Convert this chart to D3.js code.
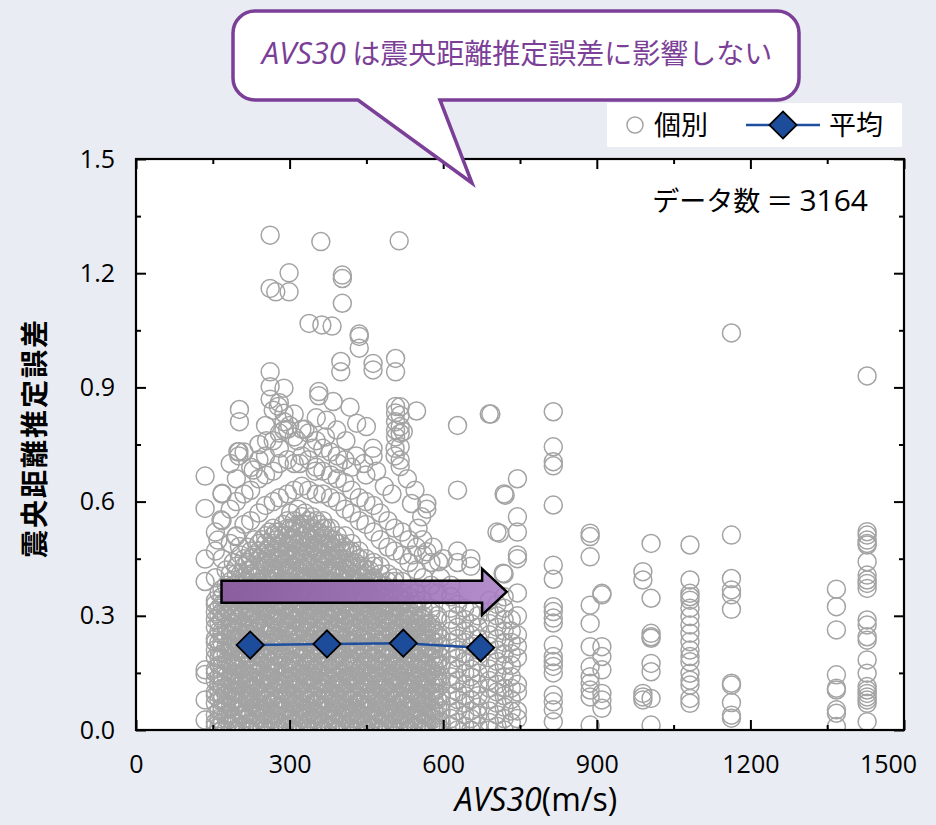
<!DOCTYPE html>
<html>
<head>
<meta charset="utf-8">
<script src="https://cdn.jsdelivr.net/npm/d3@7"></script>
<style>
  body { margin: 0; background: #e9ecf2; }
  svg { display: block; font-family: "Open Sans", "Noto Sans CJK JP", sans-serif; }
</style>
</head>
<body>
<div id="chart"></div>
<script>
// main cloud of points, grouped by AVS30 (m/s); errors in 1/100
const massCols = [
  [155, [1,2,4,7,9,10,13,15,16,19,21,23,24,27,29,31,33,34,40,47,52]],
  [168, [0,2,5,6,8,11,12,14,17,19,20,23,25,26,29,31,33,35,37,45,55,62]],
  [184, [1,3,4,6,9,11,13,14,17,18,21,22,25,27,28,31,33,35,36,39,41,49,58,70]],
  [196, [0,2,5,7,8,10,12,15,16,18,21,23,24,26,29,30,33,35,37,38,41,43,51,60,66]],
  [211, [1,3,4,6,9,10,13,15,17,18,20,23,24,27,28,31,33,34,37,39,40,43,45,54,62,73]],
  [224, [0,2,4,7,8,11,12,14,16,19,21,22,25,26,29,31,32,35,37,38,41,42,45,47,55,63,69]],
  [240, [1,3,5,6,9,10,12,15,17,18,20,23,24,27,29,30,33,34,36,39,41,42,45,47,49,57,66,75]],
  [253, [0,2,4,6,8,11,13,14,16,19,20,22,25,27,28,31,32,35,37,38,40,43,44,47,49,51,59,67,72,80]],
  [268, [1,3,4,7,9,10,12,15,16,18,21,23,24,26,29,30,33,35,36,39,41,42,45,46,49,51,53,60,68,76,84]],
  [280, [0,2,5,6,8,11,12,14,17,19,20,23,24,27,28,31,33,34,36,39,40,43,45,46,48,51,52,61,70,78,86]],
  [296, [1,3,4,6,9,10,13,15,16,18,21,22,25,27,28,30,33,35,36,38,41,42,45,47,48,51,53,55,62,71,79]],
  [309, [0,2,4,7,8,11,12,14,17,18,20,23,25,26,29,31,32,35,37,38,40,43,45,46,49,50,53,55,63,70,77,83]],
  [324, [1,3,5,6,9,10,12,15,16,19,21,22,24,27,28,31,33,34,36,39,41,42,45,47,48,51,53,54,56,64,72,79]],
  [337, [0,2,4,6,8,11,13,14,17,18,20,23,24,27,29,30,33,35,36,39,40,43,44,47,49,50,53,55,63,71,78]],
  [352, [1,3,4,7,9,10,12,15,16,19,21,22,25,26,28,31,32,35,37,38,41,42,45,47,48,51,52,55,62,69,76,82]],
  [365, [0,2,5,6,8,11,12,14,17,18,20,23,24,27,29,30,33,34,37,39,40,43,45,46,49,51,53,55,62,68,74]],
  [380, [1,3,4,6,9,10,13,15,16,18,21,23,24,26,29,31,32,35,36,38,41,42,45,47,48,50,53,61,67,73]],
  [393, [0,2,4,7,8,11,12,14,17,19,20,22,25,27,28,31,33,34,37,38,40,43,45,46,49,51,60,66,72]],
  [408, [1,3,5,6,9,10,12,15,16,18,21,22,24,27,29,30,33,35,36,39,41,42,44,47,48,51,58,65,71]],
  [421, [0,2,4,6,8,11,13,14,17,18,20,23,25,26,28,31,32,35,37,38,41,43,44,47,49,57,63,69]],
  [436, [1,3,4,7,9,10,12,15,16,19,21,22,24,27,28,31,33,34,36,39,40,43,45,47,55,61]],
  [449, [0,2,5,6,8,11,12,14,17,18,20,23,25,26,29,30,32,35,37,38,41,42,45,54,60,67]],
  [464, [1,3,4,6,9,10,13,15,16,19,21,22,24,27,29,30,33,34,37,39,40,43,44,52,59]],
  [477, [0,2,4,7,8,11,12,14,17,18,20,23,25,26,28,31,32,35,37,38,41,43,50,57]],
  [492, [1,3,5,6,9,10,12,15,16,19,21,22,24,27,29,30,33,35,36,39,41,48,55]],
  [505, [0,2,4,6,8,11,13,14,17,18,20,23,25,26,29,31,32,34,37,39,40,47,53]],
  [520, [1,3,4,7,9,10,12,15,16,19,21,22,24,27,28,31,33,34,36,39,46,52]],
  [533, [0,2,5,6,8,11,12,14,17,18,20,23,25,26,29,30,32,35,37,44,50]],
  [548, [1,3,4,6,9,10,13,15,16,19,21,22,24,27,28,31,33,34,36,42,48]],
  [561, [0,2,4,7,8,11,12,14,17,18,20,23,25,26,29,30,32,34,40,46]],
  [576, [1,3,5,6,9,10,12,15,16,19,21,22,24,27,28,31,32,38,44]],
  [589, [0,2,4,6,8,11,13,14,17,18,20,23,25,26,29,30,36]],
  [615, [1,3,6,9,12,14,17,20,23,26,29,32,35,38]],
  [628, [0,2,5,8,10,13,16,19,21,24,27,30,33,44,47,63,80]],
  [642, [1,4,7,9,12,15,18,20,23,26,29,32]],
  [654, [0,3,5,8,11,14,16,19,22,25,28,31,43,45]],
  [668, [1,4,6,9,12,15,18,21,24,27,30]],
  [690, [0,2,5,8,11,13,16,19,22,25,28,31,34,83]],
  [705, [1,4,7,10,12,15,18,21,24,27,30,33,52]],
  [719, [0,3,6,9,11,14,17,20,23,26,29,32,35,41,62]],
  [733, [2,5,8,11,14,17,20,23,26,29]],
  [745, [3,5,10,12,19,22,25,30,36,45,46,52,56,66]]
];

// more stations inside the dense core (1/100)
const coreCols = [
  [162, [1,3,5,8,10,12,14,17,19,21,23,26,28,30,32,36]],
  [176, [0,3,4,7,9,11,14,16,18,20,22,25,27,30,32,34,38,42]],
  [190, [2,3,6,8,10,13,15,17,19,22,24,26,28,31,34,36,38,44]],
  [204, [1,4,5,7,10,12,14,16,19,21,23,25,28,30,32,35,38,41,46]],
  [218, [0,3,5,8,9,12,14,17,19,20,23,25,27,30,32,34,36,39,42,44,48]],
  [232, [2,4,6,8,11,13,15,17,20,22,24,26,28,31,33,36,38,40,43,46,50]],
  [246, [1,3,5,8,10,12,14,17,19,21,23,26,28,30,32,35,37,39,42,44,46,50]],
  [260, [0,3,5,7,9,12,14,16,18,21,23,25,27,30,32,34,36,39,41,44,46,48,52]],
  [274, [2,4,6,8,11,13,15,17,20,22,24,26,29,31,33,36,38,40,42,45,47,50,52]],
  [288, [1,3,5,8,10,12,14,17,19,21,23,26,28,30,32,35,37,39,42,44,46,49,51,54]],
  [302, [0,3,5,7,9,12,14,16,18,21,23,25,27,30,32,34,36,39,41,43,46,48,50,53,57]],
  [316, [2,4,6,8,11,13,15,17,20,22,24,26,29,31,33,35,38,40,42,44,47,49,52,54,58]],
  [330, [1,3,5,8,10,12,14,17,19,21,23,26,28,30,32,35,37,39,42,44,46,48,51,54,57]],
  [344, [0,3,5,7,9,12,14,16,18,21,23,25,27,30,32,34,36,39,41,43,46,48,50,53,56]],
  [358, [2,4,6,8,11,13,15,17,20,22,24,26,29,31,33,35,38,40,42,44,47,49,52,54]],
  [372, [1,3,5,8,10,12,14,17,19,21,23,26,28,30,32,35,37,39,42,44,46,49,51,53]],
  [386, [0,3,5,7,9,12,14,16,18,21,23,25,27,30,32,34,36,39,41,43,46,48,50]],
  [400, [2,4,6,8,11,13,15,17,20,22,24,26,29,31,33,35,38,40,42,45,47,49]],
  [414, [1,3,5,8,10,12,14,17,19,21,23,26,28,30,32,35,37,39,42,44,47]],
  [428, [0,3,5,7,9,12,14,16,18,21,23,25,27,30,32,34,36,39,41,44,46]],
  [442, [2,4,6,8,11,13,15,17,20,22,24,26,29,31,33,35,38,40,43]],
  [456, [1,3,5,8,10,12,14,17,19,21,23,26,28,30,32,35,37,39,42]],
  [470, [0,3,5,7,9,12,14,16,18,21,23,25,27,30,32,34,36,39]],
  [484, [2,4,6,8,11,13,15,17,20,22,24,26,29,31,33,35,38]],
  [498, [1,3,5,8,10,12,14,17,19,21,23,26,28,30,32,36]],
  [512, [0,3,5,7,9,12,14,16,18,21,23,25,27,30,32,35]],
  [526, [2,4,6,8,11,13,15,17,20,22,24,26,29,31,34]],
  [540, [1,3,5,8,10,12,14,17,19,21,23,26,28,30,33]],
  [554, [0,3,5,7,9,12,14,16,18,21,23,25,27,30]],
  [568, [2,4,6,8,11,13,15,17,20,22,24,26,28]],
  [582, [1,3,5,8,10,12,14,17,19,21,23,26]],
  [596, [0,2,5,7,9,12,14,17,19,22,24]]
];

// high-AVS30 stations (error values as read)
const stationCols = [
  [815, [0.836,0.744,0.705,0.694,0.591,0.433,0.396,0.324,0.311,0.294,0.281,0.223,0.193,0.180,0.167,0.150,0.092,0.074,0.053,0.022]],
  [887, [0.517,0.508,0.455,0.328,0.280,0.219,0.166,0.140,0.123,0.105,0.087,0.013]],
  [910, [0.359,0.355,0.219,0.193,0.158,0.096,0.079,0.057]],
  [990, [0.416,0.394,0.096,0.087,0.079]],
  [1006, [0.490,0.346,0.254,0.245,0.241,0.175,0.153,0.083,0.013]],
  [1082, [0.486,0.394,0.359,0.350,0.341,0.320,0.298,0.276,0.254,0.232,0.210,0.193,0.179,0.149,0.131,0.118,0.083,0.070]],
  [1163, [1.043,0.512,0.398,0.368,0.355,0.317,0.123,0.118,0.072,0.039,0.031]],
  [1368, [0.370,0.324,0.263,0.145,0.110,0.105,0.053,0.044,0.009]],
  [1428, [0.930,0.521,0.512,0.499,0.490,0.486,0.442,0.407,0.394,0.385,0.372,0.289,0.276,0.245,0.236,0.184,0.149,0.114,0.105,0.096,0.087,0.079,0.070,0.022]]
];

// scattered single points [AVS30, error]
const loosePts = [
  [262,1.300],[361,1.283],[514,1.285],[299,1.201],[262,1.160],[273,1.151],[299,1.151],
  [403,1.195],[403,1.186],[403,1.121],[338,1.068],[363,1.064],[383,1.061],[436,1.040],
  [436,1.034],[436,1.003],[400,0.968],[400,0.941],[463,0.963],[463,0.946],[507,0.976],
  [507,0.941],[262,0.941],[262,0.902],[289,0.898],[262,0.869],[278,0.850],[357,0.889],
  [357,0.878],[385,0.863],[418,0.848],[202,0.842],[202,0.810],[507,0.850],[507,0.833],
  [548,0.838],[507,0.810],[507,0.788],[522,0.784],[507,0.770],[201,0.731],[201,0.720],
  [229,0.683],[135,0.667],[289,0.832],[289,0.810],[289,0.788],[372,0.814],[392,0.788],
  [431,0.806],[450,0.797],[506,0.740],[506,0.720],[463,0.740],[463,0.720],[516,0.849],
  [516,0.827],[516,0.797],[516,0.779],[516,0.744],[516,0.709],[516,0.692],[568,0.595],
  [551,0.530],[538,0.595],[568,0.580],[558,0.560],[568,0.468],[591,0.442],[693,0.830],
  [721,0.617],[710,0.517],[717,0.412],[135,0.582],[135,0.449],[135,0.390],[135,0.158],
  [135,0.146],[135,0.079],[135,0.026],[168,0.622],[199,0.731],[166,0.552],[160,0.499],
  [195,0.508],[202,0.482],[300,0.800],[315,0.760],[330,0.790],[345,0.740],[370,0.770],
  [395,0.700],[410,0.760],[430,0.720],[445,0.700],[280,0.740],[255,0.760],[240,0.710],
  [320,0.700],[350,0.680],[470,0.680],[485,0.640],[500,0.620],[530,0.660],[545,0.630],
  [540,0.460],[560,0.500],[580,0.480],[595,0.400],[600,0.450]
];

// averages
const meanX = [223, 373, 522, 673];
const meanY = [0.223, 0.226, 0.228, 0.216];

const xMajor = [0, 300, 600, 900, 1200, 1500];
const xMinor = [150, 450, 750, 1050, 1350];
const yMajor = [0, 0.3, 0.6, 0.9, 1.2, 1.5];
const yMinor = [0.15, 0.45, 0.75, 1.05, 1.35];

// arrow: AVS30 start, head base, tip; error level
const arrowX = [167, 676, 724];
const arrowY = 0.363;

const points = [];
massCols.concat(coreCols).forEach(([x, ys]) => ys.forEach(v => points.push([x, v / 100])));
stationCols.forEach(([x, ys]) => ys.forEach(v => points.push([x, v])));
loosePts.forEach(p => points.push(p));

const W = 936, H = 825;
const m = { left: 136, right: 904, top: 159, bottom: 730 };
const purple = '#7b3f98';
const blue = '#1f4e9e';
const jp = '"Noto Sans CJK JP", sans-serif';

const svg = d3.select('#chart').append('svg')
  .attr('width', W).attr('height', H);

svg.append('rect').attr('width', W).attr('height', H).attr('fill', '#e9ecf2');

const x = d3.scaleLinear().domain([0, 1500]).range([m.left, m.right]);
const y = d3.scaleLinear().domain([0, 1.5]).range([m.bottom, m.top]);

svg.append('rect')
  .attr('x', m.left).attr('y', m.top)
  .attr('width', m.right - m.left).attr('height', m.bottom - m.top)
  .attr('fill', '#fff');

const defs = svg.append('defs');
defs.append('clipPath').attr('id', 'plot')
  .append('rect')
  .attr('x', m.left).attr('y', m.top)
  .attr('width', m.right - m.left).attr('height', m.bottom - m.top);

const grad = defs.append('linearGradient').attr('id', 'arrowFill')
  .attr('x1', '0%').attr('x2', '100%');
grad.append('stop').attr('offset', '0%').attr('stop-color', '#885a9e').attr('stop-opacity', 0.95);
grad.append('stop').attr('offset', '100%').attr('stop-color', '#a97fc6').attr('stop-opacity', 0.88);

// scatter
svg.append('g').attr('clip-path', 'url(#plot)')
  .selectAll('circle')
  .data(points)
  .join('circle')
  .attr('cx', d => x(d[0]))
  .attr('cy', d => y(d[1]))
  .attr('r', 9)
  .attr('fill', 'none')
  .attr('stroke', '#a3a3a3')
  .attr('stroke-width', 1.5);

// purple arrow
const ay = y(arrowY);
const arrowPath = d3.path();
arrowPath.moveTo(x(arrowX[0]), ay - 11);
arrowPath.lineTo(x(arrowX[1]), ay - 11);
arrowPath.lineTo(x(arrowX[1]), ay - 23);
arrowPath.lineTo(x(arrowX[2]), ay);
arrowPath.lineTo(x(arrowX[1]), ay + 23);
arrowPath.lineTo(x(arrowX[1]), ay + 11);
arrowPath.lineTo(x(arrowX[0]), ay + 11);
arrowPath.closePath();
svg.append('path')
  .attr('d', arrowPath.toString())
  .attr('fill', 'url(#arrowFill)')
  .attr('stroke', '#000')
  .attr('stroke-width', 2.5)
  .attr('stroke-linejoin', 'miter');

// mean line + diamonds
const means = meanX.map((v, i) => [v, meanY[i]]);
svg.append('path')
  .datum(means)
  .attr('fill', 'none')
  .attr('stroke', blue)
  .attr('stroke-width', 2.5)
  .attr('d', d3.line().x(d => x(d[0])).y(d => y(d[1])));

const diamond = d3.symbol().type(d3.symbolSquare).size(370);
svg.append('g').selectAll('path')
  .data(means)
  .join('path')
  .attr('d', diamond)
  .attr('transform', d => `translate(${x(d[0])},${y(d[1])}) rotate(45)`)
  .attr('fill', '#1d4c9b')
  .attr('stroke', '#000')
  .attr('stroke-width', 1.8);

// axes (ticks inward, mirrored)
function styleAxis(g) {
  g.select('.domain').remove();
  g.selectAll('.tick line').attr('stroke', '#000').attr('stroke-width', 2);
  g.selectAll('.tick text').attr('fill', '#000').style('font-size', '25px')
    .style('font-family', '"Open Sans", sans-serif');
}

const xAxisG = svg.append('g').attr('transform', `translate(0,${m.bottom})`)
  .call(d3.axisBottom(x).tickValues(xMajor).tickSize(-10).tickPadding(25).tickFormat(d3.format('d')))
  .call(styleAxis);
// last label sits inside the page edge
xAxisG.selectAll('.tick text').filter(d => d === 1500).attr('dx', -16);

svg.append('g').attr('transform', `translate(0,${m.bottom})`)
  .call(d3.axisBottom(x).tickValues(xMinor).tickSize(-5).tickFormat(''))
  .call(styleAxis);
svg.append('g').attr('transform', `translate(0,${m.top})`)
  .call(d3.axisTop(x).tickValues(xMajor).tickSize(-10).tickFormat(''))
  .call(styleAxis);
svg.append('g').attr('transform', `translate(0,${m.top})`)
  .call(d3.axisTop(x).tickValues(xMinor).tickSize(-5).tickFormat(''))
  .call(styleAxis);

svg.append('g').attr('transform', `translate(${m.left},0)`)
  .call(d3.axisLeft(y).tickValues(yMajor).tickSize(-10).tickPadding(21).tickFormat(d3.format('.1f')))
  .call(styleAxis);
svg.append('g').attr('transform', `translate(${m.left},0)`)
  .call(d3.axisLeft(y).tickValues(yMinor).tickSize(-5).tickFormat(''))
  .call(styleAxis);
svg.append('g').attr('transform', `translate(${m.right},0)`)
  .call(d3.axisRight(y).tickValues(yMajor).tickSize(-10).tickFormat(''))
  .call(styleAxis);
svg.append('g').attr('transform', `translate(${m.right},0)`)
  .call(d3.axisRight(y).tickValues(yMinor).tickSize(-5).tickFormat(''))
  .call(styleAxis);

// frame
svg.append('rect')
  .attr('x', m.left).attr('y', m.top)
  .attr('width', m.right - m.left).attr('height', m.bottom - m.top)
  .attr('fill', 'none').attr('stroke', '#000').attr('stroke-width', 2.2);

// axis titles
const xt = svg.append('text')
  .attr('x', 536).attr('y', 811)
  .attr('text-anchor', 'middle')
  .style('font-size', '32px');
xt.append('tspan').attr('font-style', 'italic').text('AVS30');
xt.append('tspan').text('(m/s)');

svg.append('text')
  .attr('transform', 'translate(45,438) rotate(-90)')
  .attr('text-anchor', 'middle')
  .style('font-size', '28px')
  .style('font-weight', 'bold')
  .style('letter-spacing', '2px')
  .style('font-family', jp)
  .text('震央距離推定誤差');

// data count
const dc = svg.append('text')
  .attr('x', 868).attr('y', 211)
  .attr('text-anchor', 'end')
  .style('font-size', '27px');
dc.append('tspan').style('font-family', jp).text('データ数 ＝ ');
dc.append('tspan').style('font-size', '30px').text('3164');

// legend
const lg = svg.append('g');
lg.append('rect').attr('x', 607).attr('y', 103).attr('width', 295).attr('height', 44).attr('fill', '#fff');
lg.append('circle').attr('cx', 635).attr('cy', 125).attr('r', 8)
  .attr('fill', 'none').attr('stroke', '#a3a3a3').attr('stroke-width', 1.5);
lg.append('text').attr('x', 654).attr('y', 135).style('font-size', '27px')
  .style('font-family', jp).text('個別');
lg.append('line').attr('x1', 746).attr('x2', 820).attr('y1', 125).attr('y2', 125)
  .attr('stroke', blue).attr('stroke-width', 2.5);
lg.append('path').attr('d', diamond)
  .attr('transform', 'translate(783,125) rotate(45)')
  .attr('fill', '#1d4c9b').attr('stroke', '#000').attr('stroke-width', 1.8);
lg.append('text').attr('x', 829).attr('y', 135).style('font-size', '27px')
  .style('font-family', jp).text('平均');

// callout bubble
const L = 233, T = 11, R = 799, B = 100, r = 22;
const bubble = d3.path();
bubble.moveTo(L + r, T);
bubble.lineTo(R - r, T);
bubble.arcTo(R, T, R, T + r, r);
bubble.lineTo(R, B - r);
bubble.arcTo(R, B, R - r, B, r);
bubble.lineTo(440, B);
bubble.lineTo(472, 183);
bubble.lineTo(358, B);
bubble.lineTo(L + r, B);
bubble.arcTo(L, B, L, B - r, r);
bubble.lineTo(L, T + r);
bubble.arcTo(L, T, L + r, T, r);
bubble.closePath();
svg.append('path')
  .attr('d', bubble.toString())
  .attr('fill', '#fff')
  .attr('stroke', purple)
  .attr('stroke-width', 3.5)
  .attr('stroke-linejoin', 'miter');

const ct = svg.append('text')
  .attr('x', 517).attr('y', 64)
  .attr('text-anchor', 'middle')
  .attr('fill', purple)
  .style('font-size', '28px');
ct.append('tspan').attr('font-style', 'italic').style('font-size', '31px').text('AVS30');
ct.append('tspan').style('font-family', jp).text(' は震央距離推定誤差に影響しない');
</script>
</body>
</html>
